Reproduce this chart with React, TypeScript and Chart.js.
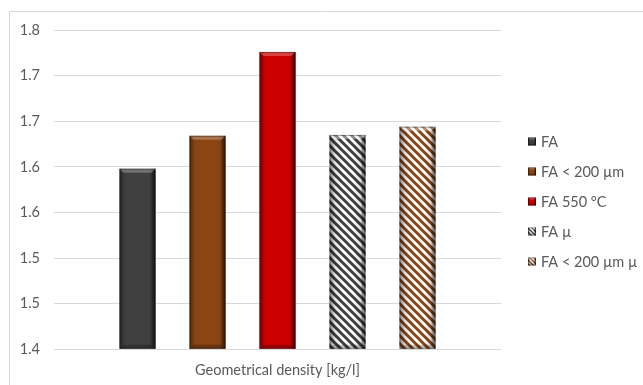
import React, { useEffect, useRef } from "react";
import { Chart, registerables } from "chart.js";

Chart.register(...registerables);

// Data
const categories = ["Geometrical density [kg/l]"];
const seriesNames = ["FA", "FA < 200 µm", "FA 550 °C", "FA µ", "FA < 200 µm µ"];
const seriesValues = [1.598, 1.634, 1.726, 1.635, 1.644];
const seriesColors = ["#404040", "#8B4513", "#CC0000", "#404040", "#8B4513"];
const seriesHatched = [false, false, false, true, true];
const yMin = 1.4;
const yMax = 1.75;
const yStep = 0.05;
const yTickLabels = ["1.4", "1.5", "1.5", "1.6", "1.6", "1.7", "1.7", "1.8"];

const FONT = "Lato, 'Open Sans', sans-serif";
const FONT_SIZE = 14.5;
const TEXT = "#595959";
const GRID = "#d9d9d9";

function makeHatch(color: string, size = 8, lw = 3): CanvasPattern | string {
  const c = document.createElement("canvas");
  c.width = size;
  c.height = size;
  const g = c.getContext("2d");
  if (!g) return color;
  g.fillStyle = "#ffffff";
  g.fillRect(0, 0, size, size);
  g.strokeStyle = color;
  g.lineWidth = lw;
  g.lineCap = "square";
  for (const k of [-size, 0, size]) {
    g.beginPath();
    g.moveTo(k, 0);
    g.lineTo(k + size, size);
    g.stroke();
  }
  const p = g.createPattern(c, "repeat");
  return p || color;
}

function fillFor(i: number): CanvasPattern | string {
  return seriesHatched[i] ? makeHatch(seriesColors[i]) : seriesColors[i];
}

// Bevel shading over a rectangle
function bevel(ctx: CanvasRenderingContext2D, left: number, top: number, right: number, bottom: number, b: number, hatched: boolean) {
  const w = right - left;
  const gr = ctx.createLinearGradient(left, 0, right, 0);
  if (hatched) {
    gr.addColorStop(0, "rgba(0,0,0,0.35)");
    gr.addColorStop(0.15, "rgba(0,0,0,0.12)");
    gr.addColorStop(0.35, "rgba(0,0,0,0)");
    gr.addColorStop(0.7, "rgba(0,0,0,0)");
    gr.addColorStop(0.88, "rgba(0,0,0,0.15)");
    gr.addColorStop(1, "rgba(0,0,0,0.45)");
  } else {
    gr.addColorStop(0, "rgba(0,0,0,0.3)");
    gr.addColorStop(0.1, "rgba(0,0,0,0.08)");
    gr.addColorStop(0.2, "rgba(0,0,0,0)");
    gr.addColorStop(0.8, "rgba(0,0,0,0)");
    gr.addColorStop(0.9, "rgba(0,0,0,0.15)");
    gr.addColorStop(1, "rgba(0,0,0,0.5)");
  }
  ctx.fillStyle = gr;
  ctx.fillRect(left, top, w, bottom - top);
  // top face
  ctx.beginPath();
  ctx.moveTo(left, top);
  ctx.lineTo(right, top);
  ctx.lineTo(right - b, top + b);
  ctx.lineTo(left + b, top + b);
  ctx.closePath();
  ctx.fillStyle = hatched ? "rgba(255,255,255,0.4)" : "rgba(255,255,255,0.25)";
  ctx.fill();
  // left face
  ctx.beginPath();
  ctx.moveTo(left, top);
  ctx.lineTo(left + b, top + b);
  ctx.lineTo(left + b, bottom - b);
  ctx.lineTo(left, bottom);
  ctx.closePath();
  ctx.fillStyle = "rgba(0,0,0,0.1)";
  ctx.fill();
  // right face
  ctx.beginPath();
  ctx.moveTo(right, top);
  ctx.lineTo(right - b, top + b);
  ctx.lineTo(right - b, bottom - b);
  ctx.lineTo(right, bottom);
  ctx.closePath();
  ctx.fillStyle = "rgba(0,0,0,0.25)";
  ctx.fill();
  // bottom face
  ctx.beginPath();
  ctx.moveTo(left, bottom);
  ctx.lineTo(left + b, bottom - b);
  ctx.lineTo(right - b, bottom - b);
  ctx.lineTo(right, bottom);
  ctx.closePath();
  ctx.fillStyle = "rgba(0,0,0,0.25)";
  ctx.fill();
  ctx.strokeStyle = "rgba(0,0,0,0.35)";
  ctx.lineWidth = 1;
  ctx.strokeRect(left + 0.5, top + 0.5, w - 1, bottom - top - 1);
}

const framePlugin = {
  id: "frame",
  beforeDraw(chart: Chart) {
    const ctx = chart.ctx;
    ctx.save();
    ctx.fillStyle = "#ffffff";
    ctx.fillRect(0, 0, chart.width, chart.height);
    ctx.strokeStyle = GRID;
    ctx.lineWidth = 1;
    ctx.beginPath();
    ctx.moveTo(9.5, chart.height + 5);
    ctx.lineTo(9.5, 11.5);
    ctx.lineTo(chart.width + 5, 11.5);
    ctx.stroke();
    ctx.restore();
  },
};

const bevelPlugin = {
  id: "bevel",
  afterDatasetsDraw(chart: Chart) {
    const ctx = chart.ctx;
    const area = chart.chartArea;
    ctx.save();
    chart.data.datasets.forEach((_ds, di) => {
      const meta = chart.getDatasetMeta(di);
      meta.data.forEach((el: any) => {
        const p = el.getProps(["x", "y", "base", "width"], true);
        const left = p.x - p.width / 2;
        const right = p.x + p.width / 2;
        const bottom = Math.min(p.base, area.bottom);
        bevel(ctx, left, p.y, right, bottom, 4, seriesHatched[di]);
      });
    });
    ctx.restore();
  },
};

const legendPlugin = {
  id: "sideLegend",
  afterDraw(chart: Chart) {
    const ctx = chart.ctx;
    ctx.save();
    const x0 = 528;
    const y0 = 141.5;
    const gap = 30;
    const s = 8;
    ctx.font = `${FONT_SIZE}px ${FONT}`;
    ctx.textBaseline = "middle";
    ctx.textAlign = "left";
    seriesNames.forEach((name, i) => {
      const cy = y0 + i * gap;
      ctx.fillStyle = seriesHatched[i] ? makeHatch(seriesColors[i], 4, 1.5) : seriesColors[i];
      ctx.fillRect(x0, cy - s / 2, s, s);
      bevel(ctx, x0, cy - s / 2, x0 + s, cy + s / 2, 2, seriesHatched[i]);
      ctx.fillStyle = TEXT;
      ctx.fillText(name, x0 + 13, cy + 0.5);
    });
    ctx.restore();
  },
};

export default function App() {
  const ref = useRef<HTMLCanvasElement | null>(null);

  useEffect(() => {
    if (!ref.current) return;
    const chart = new Chart(ref.current, {
      type: "bar",
      data: {
        labels: categories,
        datasets: seriesNames.map((name, i) => ({
          label: name,
          data: [seriesValues[i]],
          base: yMin,
          backgroundColor: fillFor(i),
          borderWidth: 0,
          categoryPercentage: 0.783,
          barPercentage: 0.514,
        })),
      },
      options: {
        responsive: false,
        animation: false,
        layout: { padding: { left: 0, right: 142, top: 30, bottom: 7 } },
        plugins: {
          legend: { display: false },
          tooltip: { enabled: false },
        },
        scales: {
          x: {
            grid: { display: false, drawTicks: false },
            border: { display: false },
            ticks: { color: TEXT, font: { family: FONT, size: FONT_SIZE }, padding: 12 },
            afterFit: (s: any) => {
              s.height = 28.7;
            },
          },
          y: {
            min: yMin,
            max: yMax,
            grid: { color: GRID, drawTicks: false, lineWidth: 1 },
            border: { display: false },
            ticks: {
              stepSize: yStep,
              color: TEXT,
              font: { family: FONT, size: FONT_SIZE },
              padding: 14,
              callback: (_v: any, idx: number) => yTickLabels[idx],
            },
            afterFit: (s: any) => {
              s.width = 54;
            },
          },
        },
      },
      plugins: [framePlugin, bevelPlugin, legendPlugin],
    });
    return () => chart.destroy();
  }, []);

  return (
    <div style={{ position: "fixed", left: 0, top: 0, width: 643, height: 385, background: "#fff" }}>
      <canvas ref={ref} width={643} height={385} style={{ display: "block" }} />
    </div>
  );
}
